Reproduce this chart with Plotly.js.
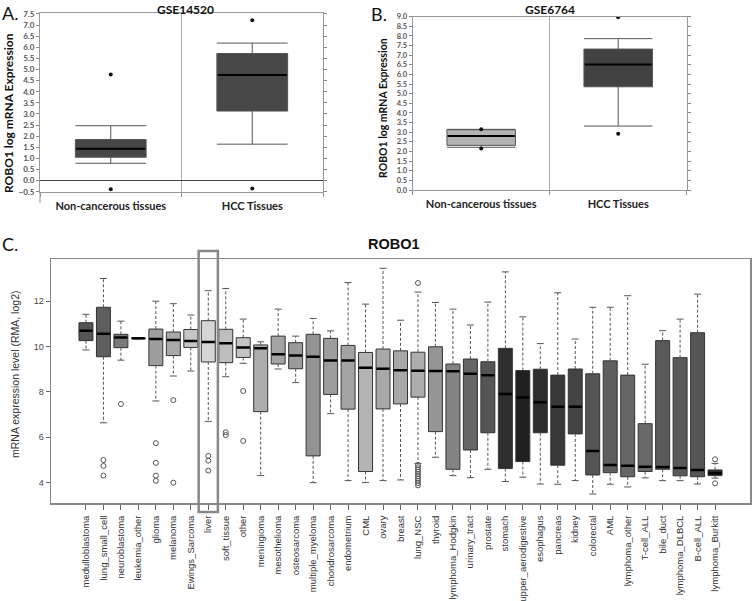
<!DOCTYPE html>
<html>
<head>
<meta charset="utf-8">
<script src="https://cdn.plot.ly/plotly-3.0.1.min.js"></script>
<style>
  html, body { margin: 0; padding: 0; background: #fff; }
  #chart { width: 752px; height: 601px; }
</style>
</head>
<body>
<div id="chart"></div>
<script>
/* ROBO1 expression figure: two GEO box plots (A, B) on top and the
   pan-cancer box plot (C) below. Box stats. */
(function () {
  "use strict";

  var GROUPS = ["Non-cancerous tissues", "HCC Tissues"];

  // A. GSE14520
  var A_LOW = [0.78, 1.64];
  var A_Q1 = [1.05, 3.13];
  var A_MED = [1.43, 4.75];
  var A_Q3 = [1.85, 5.72];
  var A_HIGH = [2.47, 6.19];
  var A_OUT = [[4.77, -0.39], [7.22, -0.36]];

  // B. GSE6764
  var B_LOW = [2.22, 3.32];
  var B_Q1 = [2.32, 5.36];
  var B_MED = [2.80, 6.52];
  var B_Q3 = [3.13, 7.32];
  var B_HIGH = [3.15, 7.86];
  var B_OUT = [[3.15, 2.15], [8.97, 2.92]];

  // C. ROBO1 across cancer types (RMA, log2)
  var CANCERS = [
    "medulloblastoma", "lung_small_cell", "neuroblastoma", "leukemia_other",
    "glioma", "melanoma", "Ewings_Sarcoma", "liver", "soft_tissue", "other",
    "meningioma", "mesothelioma", "osteosarcoma", "multiple_myeloma",
    "chondrosarcoma", "endometrium", "CML", "ovary", "breast", "lung_NSC",
    "thyroid", "lymphoma_Hodgkin", "urinary_tract", "prostate", "stomach",
    "upper_aerodigestive", "esophagus", "pancreas", "kidney", "colorectal",
    "AML", "lymphoma_other", "T-cell_ALL", "bile_duct", "lymphoma_DLBCL",
    "B-cell_ALL", "lymphoma_Burkitt"
  ];
  var C_LOW = [9.85, 6.64, 9.40, 10.34, 7.60, 8.70, 8.92, 6.70, 8.67, 9.26,
    4.31, 9.01, 8.41, 4.00, 7.04, 4.09, 4.00, 4.09, 4.12, 4.85,
    5.12, 4.31, 4.22, 4.59, 4.05, 4.24, 3.94, 3.93, 4.09, 3.50,
    3.93, 3.81, 4.21, 4.09, 4.09, 3.94, 4.20];
  var C_Q1 = [10.26, 9.55, 9.95, 10.34, 9.16, 9.60, 9.96, 9.32, 9.29, 9.52,
    7.13, 9.23, 9.02, 5.18, 7.89, 7.24, 4.49, 7.25, 7.47, 7.77,
    6.25, 4.59, 5.44, 6.20, 4.62, 4.93, 6.20, 4.77, 6.15, 4.34,
    4.44, 4.26, 4.49, 4.59, 4.30, 4.26, 4.31];
  var C_MED = [10.70, 10.56, 10.40, 10.36, 10.33, 10.29, 10.24, 10.20, 10.14, 9.96,
    9.92, 9.66, 9.60, 9.55, 9.39, 9.39, 9.07, 9.02, 8.95, 8.93,
    8.92, 8.91, 8.80, 8.73, 7.91, 7.75, 7.54, 7.35, 7.35, 5.40,
    4.78, 4.75, 4.70, 4.69, 4.65, 4.56, 4.41];
  var C_Q3 = [11.05, 11.73, 10.54, 10.38, 10.77, 10.64, 10.75, 11.14, 10.76, 10.39,
    10.07, 10.46, 10.17, 10.54, 10.36, 10.05, 9.74, 9.89, 9.81, 9.75,
    9.99, 9.23, 9.45, 9.33, 9.92, 8.94, 9.00, 8.74, 9.01, 8.80,
    9.37, 8.74, 6.60, 10.26, 9.51, 10.61, 4.56];
  var C_HIGH = [11.42, 13.00, 11.12, 10.38, 12.00, 11.89, 11.39, 12.46, 12.56, 11.21,
    10.21, 11.65, 10.46, 11.24, 10.69, 12.82, 11.87, 13.45, 11.16, 12.40,
    11.94, 11.65, 10.95, 11.96, 13.29, 11.31, 10.13, 12.37, 10.33, 11.73,
    11.73, 12.24, 9.22, 10.70, 11.21, 12.31, 4.85];
  var C_OUT = [
    [], [5.00, 4.74, 4.31], [7.47], [], [5.74, 4.87, 4.31, 4.08], [7.64, 4.00],
    [], [5.18, 4.97, 4.53], [6.22, 6.10], [8.04, 5.84], [], [], [], [], [], [],
    [], [], [], [12.80, 4.78, 4.68, 4.58, 4.48, 4.38, 4.28, 4.18, 4.08, 3.98, 3.88],
    [], [], [], [], [], [], [], [], [], [], [], [], [], [], [], [], [5.03, 3.97]
  ];

  // grey shade of each box in C (style, kept apart from the values)
  var C_FILLS = [
    "#545454", "#5e5e5e", "#7a7a7a", "#888888", "#9e9e9e", "#a8a8a8", "#c6c6c6",
    "#d6d6d6", "#bebebe", "#c4c4c4", "#adadad", "#a4a4a4", "#9b9b9b", "#939393",
    "#9d9d9d", "#a3a3a3", "#b4b4b4", "#a9a9a9", "#a7a7a7", "#adadad", "#959595",
    "#848484", "#666666", "#555555", "#2e2e2e", "#202020", "#2d2d2d", "#383838",
    "#444444", "#555555", "#5e5e5e", "#666666", "#6a6a6a", "#5a5a5a", "#595959",
    "#555555", "#2a2a2a"
  ];

  var W = 752, H = 601;
  function px(x) { return x / W; }
  function py(y) { return 1 - y / H; }
  // plotly's line-ew marker is 1.4 x its size long
  function lineMarkerSize(lengthPx) { return lengthPx / 1.4; }

  var BOLD = { family: "Lato, 'Open Sans', sans-serif", weight: "bold" };
  var ARIAL = "'Liberation Sans', Arial, sans-serif";

  // Panels A and B: one box per group, thick black median, black dots for outliers.
  function groupTraces(xa, ya, low, q1, med, q3, high, outs, fills, boxPx) {
    var traces = GROUPS.map(function (g, i) {
      return {
        type: "box", xaxis: xa, yaxis: ya,
        x: [g], q1: [q1[i]], median: [med[i]], q3: [q3[i]],
        lowerfence: [low[i]], upperfence: [high[i]],
        width: 0.5, whiskerwidth: 1, boxpoints: false,
        fillcolor: fills[i], line: { color: "#555", width: 1 },
        hoverinfo: "skip"
      };
    });
    traces.push({
      type: "scatter", mode: "markers", xaxis: xa, yaxis: ya,
      x: GROUPS, y: med, hoverinfo: "skip",
      marker: { symbol: "line-ew", size: lineMarkerSize(boxPx - 2),
        line: { color: "#000", width: 2 } }
    });
    var ox = [], oy = [];
    outs.forEach(function (list, i) {
      list.forEach(function (v) { ox.push(GROUPS[i]); oy.push(v); });
    });
    traces.push({
      type: "scatter", mode: "markers", xaxis: xa, yaxis: ya,
      x: ox, y: oy, hoverinfo: "skip",
      marker: { symbol: "circle", size: 4, color: "#111" }
    });
    return traces;
  }

  // Panel C: R-style boxes, dashed whiskers with short caps, open-circle outliers.
  function cancerTraces() {
    var traces = CANCERS.map(function (name, i) {
      return {
        type: "box", xaxis: "x3", yaxis: "y3",
        x: [name], q1: [C_Q1[i]], median: [C_MED[i]], q3: [C_Q3[i]],
        lowerfence: [C_Q1[i]], upperfence: [C_Q3[i]],
        width: 0.8, whiskerwidth: 0, boxpoints: false,
        fillcolor: C_FILLS[i], line: { color: "#333", width: 1 },
        hoverinfo: "skip"
      };
    });

    var wx = [], wy = [];
    CANCERS.forEach(function (name, i) {
      wx.push(name, name, null, name, name, null);
      wy.push(C_Q3[i], C_HIGH[i], null, C_Q1[i], C_LOW[i], null);
    });
    traces.push({
      type: "scatter", mode: "lines", xaxis: "x3", yaxis: "y3",
      x: wx, y: wy, connectgaps: false, hoverinfo: "skip",
      line: { color: "#555", width: 1, dash: "3px,2px" }
    });

    traces.push({
      type: "scatter", mode: "markers", xaxis: "x3", yaxis: "y3",
      x: CANCERS.concat(CANCERS), y: C_HIGH.concat(C_LOW), hoverinfo: "skip",
      marker: { symbol: "line-ew", size: lineMarkerSize(7),
        line: { color: "#555", width: 1 } }
    });

    traces.push({
      type: "scatter", mode: "markers", xaxis: "x3", yaxis: "y3",
      x: CANCERS, y: C_MED, hoverinfo: "skip",
      marker: { symbol: "line-ew", size: lineMarkerSize(13),
        line: { color: "#000", width: 2.5 } }
    });

    var ox = [], oy = [];
    C_OUT.forEach(function (list, i) {
      list.forEach(function (v) { ox.push(CANCERS[i]); oy.push(v); });
    });
    traces.push({
      type: "scatter", mode: "markers", xaxis: "x3", yaxis: "y3",
      x: ox, y: oy, hoverinfo: "skip",
      marker: { symbol: "circle-open", size: 5, color: "#555", line: { width: 1 } }
    });
    return traces;
  }

  var traces = []
    .concat(groupTraces("x", "y", A_LOW, A_Q1, A_MED, A_Q3, A_HIGH, A_OUT,
      ["#474747", "#474747"], 71))
    .concat(groupTraces("x2", "y2", B_LOW, B_Q1, B_MED, B_Q3, B_HIGH, B_OUT,
      ["#b3b3b3", "#424242"], 69))
    .concat(cancerTraces());

  function groupXAxis(domain, anchor) {
    return {
      domain: domain, anchor: anchor, type: "category",
      categoryorder: "array", categoryarray: GROUPS, range: [-0.5, 1.5],
      tickson: "boundaries", ticks: "outside", ticklen: 4, tickcolor: "#888",
      ticklabelstandoff: 4,
      showgrid: true, gridcolor: "#aaa", zeroline: false,
      showline: true, linecolor: "#999", mirror: true,
      tickfont: Object.assign({ size: 11, color: "#222" }, BOLD)
    };
  }

  function groupYAxis(domain, anchor, range, fontSize) {
    return {
      domain: domain, anchor: anchor, range: range,
      dtick: 0.5, tick0: 0, tickformat: ".1f",
      ticks: "outside", ticklen: 3, tickcolor: "#888",
      showline: true, linecolor: "#999", mirror: "ticks",
      showgrid: false, zeroline: range[0] < 0, zerolinecolor: "#444", zerolinewidth: 1,
      tickfont: Object.assign({ size: fontSize, color: "#555" }, BOLD)
    };
  }

  var layout = {
    width: W, height: H,
    margin: { l: 0, r: 0, t: 0, b: 0 },
    paper_bgcolor: "#fff", plot_bgcolor: "#fff",
    showlegend: false, boxmode: "overlay",
    font: { family: "Lato, sans-serif", color: "#222" },

    xaxis: groupXAxis([px(40), px(323)], "y"),
    yaxis: groupYAxis([py(191.7), py(13.3)], "x", [-0.5, 7.53], 8),
    xaxis2: groupXAxis([px(412.7), px(686.7)], "y2"),
    yaxis2: groupYAxis([py(190), py(16.7)], "x2", [0, 9], 7.5),

    xaxis3: {
      domain: [px(51), px(750)], anchor: "y3", type: "category",
      categoryorder: "array", categoryarray: CANCERS, range: [-2, 38],
      ticks: "outside", ticklen: 5, tickcolor: "#666", tickangle: -90,
      ticklabelstandoff: 2,
      tickfont: { family: ARIAL, size: 9.5, color: "#333" },
      showline: true, linecolor: "#888", linewidth: 1.5, mirror: true,
      showgrid: false, zeroline: false
    },
    yaxis3: {
      domain: [py(503.3), py(259.2)], anchor: "x3", range: [3.09, 13.85],
      dtick: 2, tick0: 0, ticks: "outside", ticklen: 4, tickcolor: "#666",
      tickfont: { family: ARIAL, size: 9, color: "#444" },
      showline: true, linecolor: "#888", linewidth: 1.5, mirror: true,
      showgrid: false, zeroline: false
    },

    shapes: [
      // A's left axis runs a little past the bottom of the frame
      { type: "line", xref: "paper", yref: "paper",
        x0: px(40), x1: px(40), y0: py(191.7), y1: py(203),
        line: { color: "#999", width: 1 } },
      // highlight around "liver"
      { type: "rect", xref: "x3", yref: "paper",
        x0: 7 - 0.55, x1: 7 + 0.55, y0: py(512), y1: py(251),
        line: { color: "#888", width: 2.5 }, fillcolor: "rgba(0,0,0,0)" }
    ],

    annotations: [
      { text: "A.", x: px(0), y: py(0), xanchor: "left", yanchor: "top",
        font: { family: "Lato, sans-serif", size: 18, color: "#111" } },
      { text: "B.", x: px(369), y: py(1), xanchor: "left", yanchor: "top",
        font: { family: "Lato, sans-serif", size: 18, color: "#111" } },
      { text: "C.", x: px(0), y: py(231), xanchor: "left", yanchor: "top",
        font: { family: "Lato, sans-serif", size: 18, color: "#111" } },
      { text: "GSE14520", x: px(185), y: py(0), xanchor: "center", yanchor: "top",
        font: Object.assign({ size: 12, color: "#111" }, BOLD) },
      { text: "GSE6764", x: px(550), y: py(0), xanchor: "center", yanchor: "top",
        font: Object.assign({ size: 12, color: "#111" }, BOLD) },
      { text: "ROBO1 log mRNA Expression", textangle: -90,
        x: px(8), y: py(113), xanchor: "center", yanchor: "middle",
        font: Object.assign({ size: 12, color: "#111" }, BOLD) },
      { text: "ROBO1 log mRNA Expression", textangle: -90,
        x: px(383), y: py(108), xanchor: "center", yanchor: "middle",
        font: Object.assign({ size: 10.5, color: "#111" }, BOLD) },
      { text: "ROBO1", x: px(394), y: py(244), xanchor: "center", yanchor: "middle",
        font: { family: ARIAL, size: 14.5, weight: "bold", color: "#111" } },
      { text: "mRNA expression level (RMA, log2)", textangle: -90,
        x: px(15), y: py(375), xanchor: "center", yanchor: "middle",
        font: { family: ARIAL, size: 10.5, color: "#333" } }
    ].map(function (a) {
      return Object.assign({ xref: "paper", yref: "paper", showarrow: false }, a);
    })
  };

  Plotly.newPlot("chart", traces, layout, { displayModeBar: false, staticPlot: true });
})();
</script>
</body>
</html>
